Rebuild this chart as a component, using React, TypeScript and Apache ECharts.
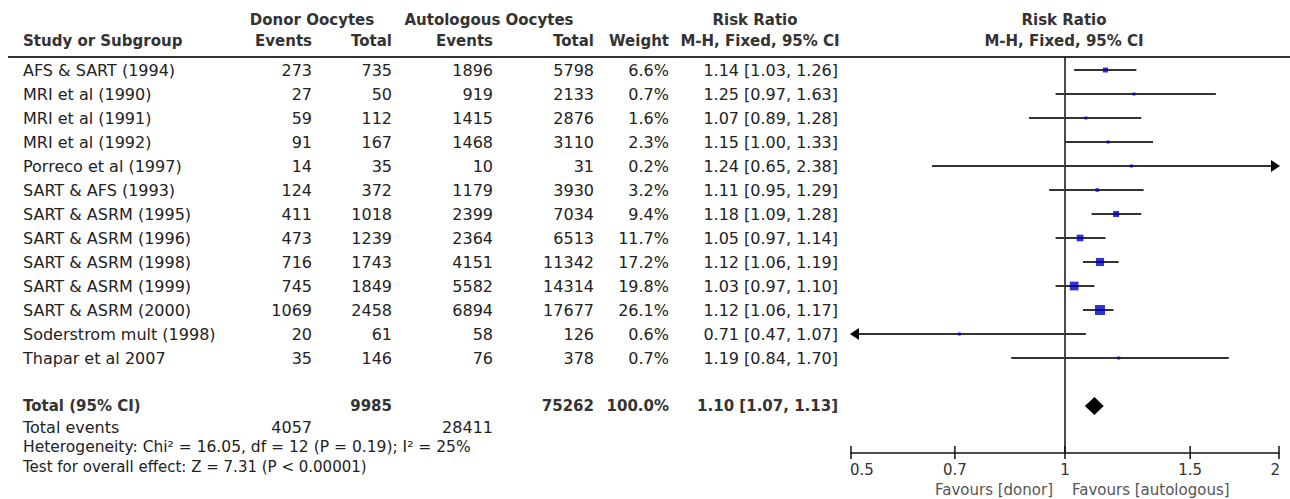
import React, { useEffect, useRef } from "react";
import * as echarts from "echarts";

// ---------- data ----------
const studies = [
  "AFS & SART (1994)",
  "MRI et al (1990)",
  "MRI et al (1991)",
  "MRI et al (1992)",
  "Porreco et al (1997)",
  "SART & AFS (1993)",
  "SART & ASRM (1995)",
  "SART & ASRM (1996)",
  "SART & ASRM (1998)",
  "SART & ASRM (1999)",
  "SART & ASRM (2000)",
  "Soderstrom mult (1998)",
  "Thapar et al 2007",
];
const donorEvents = [273, 27, 59, 91, 14, 124, 411, 473, 716, 745, 1069, 20, 35];
const donorTotal = [735, 50, 112, 167, 35, 372, 1018, 1239, 1743, 1849, 2458, 61, 146];
const autoEvents = [1896, 919, 1415, 1468, 10, 1179, 2399, 2364, 4151, 5582, 6894, 58, 76];
const autoTotal = [5798, 2133, 2876, 3110, 31, 3930, 7034, 6513, 11342, 14314, 17677, 126, 378];
const weights = [6.6, 0.7, 1.6, 2.3, 0.2, 3.2, 9.4, 11.7, 17.2, 19.8, 26.1, 0.6, 0.7];
const rrValues = [1.14, 1.25, 1.07, 1.15, 1.24, 1.11, 1.18, 1.05, 1.12, 1.03, 1.12, 0.71, 1.19];
const ciLow = [1.03, 0.97, 0.89, 1.0, 0.65, 0.95, 1.09, 0.97, 1.06, 0.97, 1.06, 0.47, 0.84];
const ciHigh = [1.26, 1.63, 1.28, 1.33, 2.38, 1.29, 1.28, 1.14, 1.19, 1.1, 1.17, 1.07, 1.7];

const totalDonor = 9985;
const totalAuto = 75262;
const totalWeight = "100.0%";
const totalRR = 1.1;
const totalLow = 1.07;
const totalHigh = 1.13;
const totalEventsDonor = 4057;
const totalEventsAuto = 28411;
const heterogeneityText = "Heterogeneity: Chi\u00b2 = 16.05, df = 12 (P = 0.19); I\u00b2 = 25%";
const overallText = "Test for overall effect: Z = 7.31 (P < 0.00001)";

const tickValues = [0.5, 0.7, 1, 1.5, 2];
const tickLabels = ["0.5", "0.7", "1", "1.5", "2"];
const xMin = 0.5;
const xMax = 2;

// ---------- layout ----------
const FONT_FAMILY = '"DejaVu Sans", Verdana, sans-serif';
const FS = 16;
const FSB = 15;
const TXT = "#222";
const HDR = "#333";
const COL = { name: 23, dEv: 312, dTot: 392, aEv: 493, aTot: 594, wt: 669, ci: 838 };
const ROW0 = 70;
const ROWH = 24;
const TOTAL_ROW = 14;
const GRID_TOP = 57;
const AXIS_Y = 453;
const Y_MIN = (GRID_TOP - ROW0) / ROWH;
const Y_MAX = (AXIS_Y - ROW0) / ROWH;
const rowY = (i: number) => ROW0 + ROWH * i;

const fmt = (v: number) => v.toFixed(2);
const ciText = (r: number, l: number, h: number) => `${fmt(r)} [${fmt(l)}, ${fmt(h)}]`;

function txt(text: string, x: number, y: number, align: string, bold = false, color = TXT, size?: number) {
  const s = size ?? (bold ? FSB : FS);
  return {
    type: "text",
    x,
    y,
    silent: true,
    style: {
      text,
      align,
      verticalAlign: "middle",
      textAlign: align,
      textVerticalAlign: "middle",
      font: `${bold ? "bold " : ""}${s}px ${FONT_FAMILY}`,
      fill: color,
    },
  };
}

function buildGraphic() {
  const els: any[] = [];
  // headers
  els.push(txt("Donor Oocytes", 312, 20, "center", true, HDR));
  els.push(txt("Autologous Oocytes", 489, 20, "center", true, HDR));
  els.push(txt("Risk Ratio", 755, 20, "center", true, HDR));
  els.push(txt("Risk Ratio", 1064, 20, "center", true, HDR));
  els.push(txt("Study or Subgroup", COL.name, 41, "left", true, HDR));
  els.push(txt("Events", COL.dEv, 41, "right", true, HDR));
  els.push(txt("Total", COL.dTot, 41, "right", true, HDR));
  els.push(txt("Events", COL.aEv, 41, "right", true, HDR));
  els.push(txt("Total", COL.aTot, 41, "right", true, HDR));
  els.push(txt("Weight", COL.wt, 41, "right", true, HDR));
  els.push(txt("M-H, Fixed, 95% CI", 760, 41, "center", true, HDR));
  els.push(txt("M-H, Fixed, 95% CI", 1064, 41, "center", true, HDR));
  els.push({
    type: "line",
    silent: true,
    shape: { x1: 8, y1: GRID_TOP, x2: 1290, y2: GRID_TOP },
    style: { stroke: "#333", lineWidth: 2 },
  });
  // study rows
  studies.forEach((s, i) => {
    const y = rowY(i);
    els.push(txt(s, COL.name, y, "left"));
    els.push(txt(String(donorEvents[i]), COL.dEv, y, "right"));
    els.push(txt(String(donorTotal[i]), COL.dTot, y, "right"));
    els.push(txt(String(autoEvents[i]), COL.aEv, y, "right"));
    els.push(txt(String(autoTotal[i]), COL.aTot, y, "right"));
    els.push(txt(weights[i].toFixed(1) + "%", COL.wt, y, "right"));
    els.push(txt(ciText(rrValues[i], ciLow[i], ciHigh[i]), COL.ci, y, "right"));
  });
  // total row
  const ty = rowY(TOTAL_ROW);
  els.push(txt("Total (95% CI)", COL.name, ty, "left", true, HDR));
  els.push(txt(String(totalDonor), COL.dTot, ty, "right", true, HDR));
  els.push(txt(String(totalAuto), COL.aTot, ty, "right", true, HDR));
  els.push(txt(totalWeight, COL.wt, ty, "right", true, HDR));
  els.push(txt(ciText(totalRR, totalLow, totalHigh), COL.ci, ty, "right", true, HDR));
  // footer
  els.push(txt("Total events", COL.name, 427, "left"));
  els.push(txt(String(totalEventsDonor), COL.dEv, 427, "right"));
  els.push(txt(String(totalEventsAuto), COL.aEv, 427, "right"));
  els.push(txt(heterogeneityText, COL.name, 447, "left", false, TXT, 15.5));
  els.push(txt(overallText, COL.name, 467, "left", false, TXT, 15));
  els.push(txt("Favours [donor]", 1053, 490, "right", false, "#555", 15));
  els.push(txt("Favours [autologous]", 1072, 490, "left", false, "#555", 15));
  return els;
}

export default function App() {
  const ref = useRef<HTMLDivElement>(null);
  useEffect(() => {
    if (!ref.current) return;
    const chart = echarts.init(ref.current, undefined, { renderer: "svg" });

    const ciData = studies.map((_, i) => [ciLow[i], ciHigh[i], i]);
    const pointData = studies.map((_, i) => [rrValues[i], i, weights[i]]);

    const option: any = {
      animation: false,
      backgroundColor: "#fff",
      grid: { left: 851, right: 1290 - 1279, top: GRID_TOP, bottom: 499 - AXIS_Y },
      xAxis: {
        type: "log",
        logBase: 2,
        min: xMin,
        max: xMax,
        axisLine: { show: true, onZero: false, lineStyle: { color: "#111", width: 1.5 } },
        axisTick: { show: false },
        axisLabel: { show: false },
        splitLine: { show: false },
      },
      yAxis: {
        type: "value",
        inverse: true,
        min: Y_MIN,
        max: Y_MAX,
        show: false,
        splitLine: { show: false },
      },
      graphic: buildGraphic(),
      series: [
        {
          type: "custom",
          name: "ci",
          clip: false,
          silent: true,
          data: ciData,
          encode: { x: [0, 1], y: 2 },
          renderItem: (params: any, api: any) => {
            const lo = api.value(0);
            const hi = api.value(1);
            const row = api.value(2);
            const p1 = api.coord([Math.max(lo, xMin), row]);
            const p2 = api.coord([Math.min(hi, xMax), row]);
            const children: any[] = [
              {
                type: "line",
                shape: { x1: p1[0], y1: p1[1], x2: p2[0], y2: p2[1] },
                style: { stroke: "#333", lineWidth: 2 },
              },
            ];
            if (hi > xMax) {
              children.push({
                type: "polygon",
                shape: { points: [[p2[0] + 1, p2[1]], [p2[0] - 8, p2[1] - 6], [p2[0] - 8, p2[1] + 6]] },
                style: { fill: "#000" },
              });
            }
            if (lo < xMin) {
              children.push({
                type: "polygon",
                shape: { points: [[p1[0] - 1, p1[1]], [p1[0] + 8, p1[1] - 6], [p1[0] + 8, p1[1] + 6]] },
                style: { fill: "#000" },
              });
            }
            return { type: "group", children };
          },
          z: 2,
        },
        {
          type: "scatter",
          name: "rr",
          silent: true,
          data: pointData,
          symbol: "rect",
          symbolSize: (val: number[]) => Math.max(3, 1.96 * Math.sqrt(val[2])),
          itemStyle: { color: "#0000c0" },
          z: 3,
          markLine: {
            silent: true,
            symbol: "none",
            label: { show: false },
            lineStyle: { color: "#111", width: 1.5, type: "solid" },
            data: [{ xAxis: 1 }],
            z: 1,
          },
        },
        {
          type: "custom",
          name: "total",
          clip: false,
          silent: true,
          data: [[totalLow, totalHigh, totalRR, TOTAL_ROW]],
          encode: { x: [0, 1, 2], y: 3 },
          renderItem: (params: any, api: any) => {
            const row = api.value(3);
            const l = api.coord([api.value(0), row]);
            const h = api.coord([api.value(1), row]);
            const c = api.coord([api.value(2), row]);
            return {
              type: "polygon",
              shape: { points: [[l[0] - 1, l[1]], [c[0], c[1] - 9], [h[0] + 1, h[1]], [c[0], c[1] + 9]] },
              style: { fill: "#000" },
            };
          },
          z: 3,
        },
        {
          type: "custom",
          name: "ticks",
          clip: false,
          silent: true,
          data: tickValues.map((v, i) => [v, i]),
          encode: { x: 0 },
          renderItem: (params: any, api: any) => {
            const v = api.value(0);
            const idx = api.value(1);
            const p = api.coord([v, Y_MAX]);
            const align = idx === 0 ? "left" : idx === tickValues.length - 1 ? "right" : "center";
            const dx = idx === 0 ? -1 : idx === tickValues.length - 1 ? 1 : 0;
            return {
              type: "group",
              children: [
                {
                  type: "line",
                  shape: { x1: p[0], y1: p[1] - 7, x2: p[0], y2: p[1] + 6 },
                  style: { stroke: "#111", lineWidth: 1.5 },
                },
                {
                  type: "text",
                  style: {
                    text: tickLabels[idx],
                    x: p[0] + dx,
                    y: p[1] + 17,
                    align,
                    verticalAlign: "middle",
                    textAlign: align,
                    textVerticalAlign: "middle",
                    font: `15px ${FONT_FAMILY}`,
                    fill: "#333",
                  },
                },
              ],
            };
          },
          z: 4,
        },
      ],
    };
    chart.setOption(option);
    return () => chart.dispose();
  }, []);
  return (
    <div
      ref={ref}
      style={{ position: "absolute", left: 0, top: 0, width: 1290, height: 499, background: "#fff" }}
    />
  );
}
